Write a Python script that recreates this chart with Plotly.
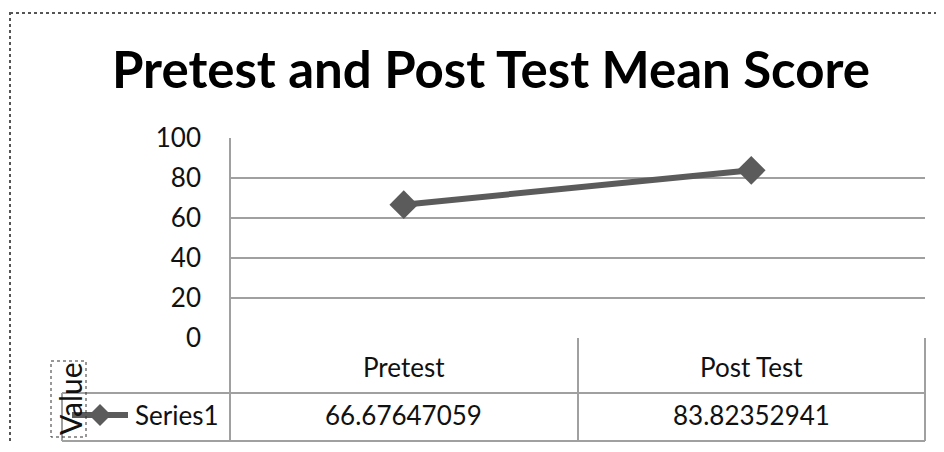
import plotly.graph_objects as go

categories = ["Pretest", "Post Test"]
series_name = "Series1"
values = [66.67647059, 83.82352941]
y_ticks = [0, 20, 40, 60, 80, 100]
title_text = "Pretest and Post Test Mean Score"
axis_title = "Value"

OFF = 8  # default page body margin
W, H = 944 - OFF, 452 - 2 * OFF
L, R, T, B = 230 - OFF, 925 - OFF, 138 - OFF, 338 - OFF  # plot area in figure pixels
FONT = "Lato, 'Open Sans', sans-serif"
GRID = "#a0a0a0"
LINE = "#5b5b5b"
TXT = "#111111"


def px(x):
    """reference page x -> paper x"""
    return (x - OFF - L) / (R - L)


def py(y):
    """reference page y -> paper y"""
    return (B - (y - OFF)) / (B - T)


fig = go.Figure()
fig.add_trace(go.Scatter(
    x=categories, y=values, mode="lines+markers", name=series_name,
    line=dict(color=LINE, width=6),
    marker=dict(symbol="diamond", size=22, color=LINE),
    cliponaxis=False, showlegend=False,
))

shapes = []
def hline(x0, x1, y, color=GRID, w=2):
    shapes.append(dict(type="line", xref="paper", yref="paper",
                       x0=px(x0), x1=px(x1), y0=py(y), y1=py(y),
                       line=dict(color=color, width=w)))

def vline(x, y0, y1, color=GRID, w=2):
    shapes.append(dict(type="line", xref="paper", yref="paper",
                       x0=px(x), x1=px(x), y0=py(y0), y1=py(y1),
                       line=dict(color=color, width=w)))

# data table grid
hline(230, 925, 393)
hline(62, 925, 441)
hline(62, 230, 393)
vline(230, 138, 441)
vline(578, 338, 441)
vline(925, 338, 441)
vline(62, 393, 441)

# legend key in table
shapes.append(dict(type="line", xref="paper", yref="paper",
                   x0=px(72), x1=px(128), y0=py(415), y1=py(415),
                   line=dict(color=LINE, width=6)))
shapes.append(dict(type="path", xref="paper", yref="paper",
                   xsizemode="pixel", ysizemode="pixel",
                   xanchor=px(100), yanchor=py(415),
                   path="M -11 0 L 0 11 L 11 0 L 0 -11 Z",
                   fillcolor=LINE, line=dict(color=LINE, width=0)))

# dotted box around axis title
shapes.append(dict(type="rect", xref="paper", yref="paper",
                   x0=px(51), x1=px(86), y0=py(361), y1=py(437),
                   line=dict(color="#333333", width=1, dash="dot")))

# outer dotted border
shapes.append(dict(type="rect", xref="paper", yref="paper",
                   x0=px(10), x1=px(980), y0=py(13), y1=py(490),
                   line=dict(color="#555555", width=2, dash="dot")))

annotations = []
for cat, val in zip(categories, values):
    annotations.append(dict(x=cat, xref="x", y=py(367), yref="paper",
                            xanchor="center", yanchor="middle",
                            text=cat, showarrow=False,
                            font=dict(family=FONT, size=26, color=TXT)))
    annotations.append(dict(x=cat, xref="x", y=py(415), yref="paper",
                            xanchor="center", yanchor="middle",
                            text=f"{val:.8f}", showarrow=False,
                            font=dict(family=FONT, size=26, color=TXT)))
annotations.append(dict(x=px(133), xref="paper", y=py(415), yref="paper",
                        text=series_name, showarrow=False,
                        xanchor="left", yanchor="middle",
                        font=dict(family=FONT, size=26, color=TXT)))
annotations.append(dict(x=px(70), xref="paper", y=py(399), yref="paper",
                        text=axis_title, showarrow=False, textangle=-90,
                        xanchor="center", yanchor="middle",
                        font=dict(family=FONT, size=30, color=TXT)))

fig.update_layout(
    width=W, height=H,
    margin=dict(l=L, r=W - R, t=T, b=H - B, pad=0),
    paper_bgcolor="white", plot_bgcolor="white",
    title=dict(text=f"<b>{title_text}</b>", x=(491 - OFF) / W, xref="container",
               y=1 - (70 - OFF) / H, yref="container", xanchor="center", yanchor="middle",
               font=dict(family=FONT, size=51, color="#000000")),
    xaxis=dict(range=[-0.5, 1.5], showticklabels=False, showgrid=False,
               zeroline=False, showline=False, fixedrange=True),
    yaxis=dict(range=[0, 100], tickvals=y_ticks, ticktext=[str(v) for v in y_ticks],
               showgrid=True, gridcolor=GRID, gridwidth=2, zeroline=False,
               showline=False, ticks="", ticklabelstandoff=28,
               tickfont=dict(family=FONT, size=26, color=TXT), fixedrange=True),
    shapes=shapes, annotations=annotations, showlegend=False,
)

fig.write_html("out.html")
